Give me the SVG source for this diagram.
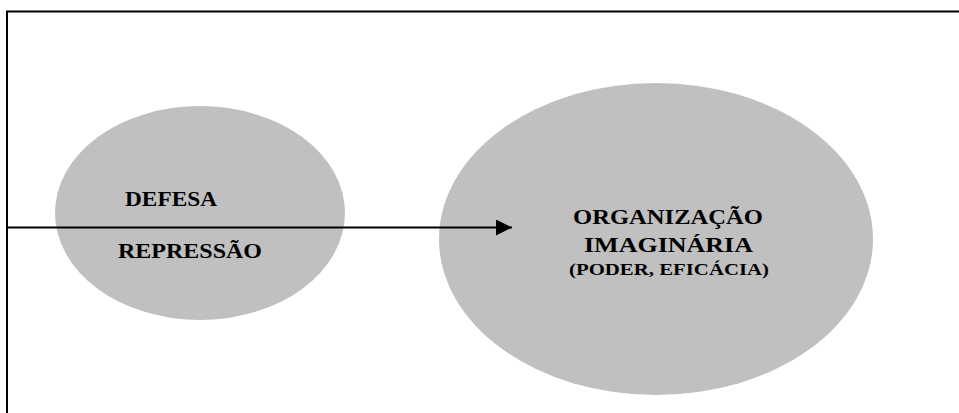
<svg xmlns="http://www.w3.org/2000/svg" width="959" height="413" viewBox="0 0 959 413">
  <style>
    .node { fill: #C0C0C0; stroke: none; }
    .lbl { font-family: "Liberation Serif", "Times New Roman", serif; font-weight: bold; fill: #000; }
    .frame { stroke: #000; stroke-width: 2; fill: none; }
    .conn { stroke: #000; stroke-width: 2; fill: none; }
  </style>
  <defs>
    <marker id="arrow" markerUnits="userSpaceOnUse" markerWidth="16" markerHeight="16" refX="16" refY="8" orient="auto">
      <path d="M0,0 L16,8 L0,16 Z" fill="#000"/>
    </marker>
  </defs>
  <rect width="959" height="413" fill="#fff"/>
  <g id="frame">
    <path class="frame" d="M7,413 L7,11.5 L959,11.5"/>
  </g>
  <g id="node-defesa">
    <ellipse class="node" cx="200" cy="213" rx="145" ry="107"/>
    <text class="lbl" x="125" y="206" font-size="20" textLength="92" lengthAdjust="spacingAndGlyphs">DEFESA</text>
    <text class="lbl" x="118" y="258" font-size="20" textLength="144" lengthAdjust="spacingAndGlyphs">REPRESSÃO</text>
  </g>
  <g id="node-organizacao">
    <ellipse class="node" cx="656" cy="239" rx="217" ry="156"/>
    <text class="lbl" x="573" y="224" font-size="20" textLength="190" lengthAdjust="spacingAndGlyphs">ORGANIZAÇÃO</text>
    <text class="lbl" x="584" y="251.5" font-size="20" textLength="169" lengthAdjust="spacingAndGlyphs">IMAGINÁRIA</text>
    <text class="lbl" x="569" y="275" font-size="17" textLength="200" lengthAdjust="spacingAndGlyphs">(PODER, EFICÁCIA)</text>
  </g>
  <g id="connectors">
    <line class="conn" x1="7" y1="227.5" x2="512" y2="227.5" marker-end="url(#arrow)"/>
  </g>
</svg>
